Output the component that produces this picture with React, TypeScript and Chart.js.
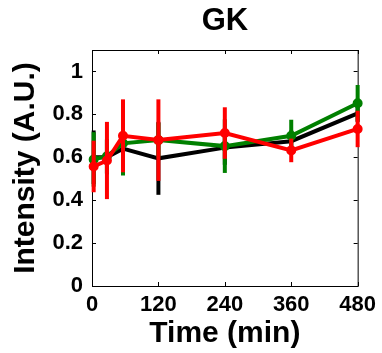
import { useEffect, useRef } from 'react';
import { Chart, registerables } from 'chart.js';

Chart.register(...registerables);

const timePoints = [3, 27, 56, 120, 240, 360, 480];

const blackMean = [0.6, 0.6, 0.64, 0.595, 0.645, 0.675, 0.805];
const blackErr = [0.125, 0.08, 0.08, 0.17, 0.08, 0.05, 0.04];

const greenMean = [0.59, 0.605, 0.665, 0.68, 0.652, 0.7, 0.852];
const greenErr = [0.127, 0.08, 0.15, 0.08, 0.125, 0.075, 0.085];

const redMean = [0.557, 0.585, 0.7, 0.68, 0.713, 0.632, 0.732];
const redErr = [0.12, 0.18, 0.17, 0.19, 0.12, 0.055, 0.085];

const xTickValues = [0, 120, 240, 360, 480];
const yTickValues = [0, 0.2, 0.4, 0.6, 0.8, 1];

const chartTitle = 'GK';
const xAxisTitle = 'Time (min)';
const yAxisTitle = 'Intensity (A.U.)';

const FONT = '"Liberation Sans", Arial, Helvetica, sans-serif';

const toPoints = (vals: number[]) => vals.map((v, i) => ({ x: timePoints[i], y: v }));

const errorBarPlugin = {
  id: 'errorBars',
  afterDatasetDraw(chart: any, args: any) {
    const ds: any = chart.data.datasets[args.index];
    const errs: number[] | undefined = ds.errors;
    if (!errs) return;
    const ctx = chart.ctx;
    const ys = chart.scales.y;
    ctx.save();
    ctx.strokeStyle = ds.borderColor;
    ctx.lineWidth = 4;
    ctx.lineCap = 'butt';
    args.meta.data.forEach((pt: any, i: number) => {
      const v = ds.data[i].y;
      const e = errs[i];
      ctx.beginPath();
      ctx.moveTo(pt.x, ys.getPixelForValue(v + e));
      ctx.lineTo(pt.x, ys.getPixelForValue(v - e));
      ctx.stroke();
    });
    ctx.restore();
  },
};

const boxPlugin = {
  id: 'matlabBox',
  beforeDatasetsDraw(chart: any) {
    const { ctx, chartArea } = chart;
    const { left, right, top, bottom } = chartArea;
    const xs = chart.scales.x;
    const ys = chart.scales.y;
    const tl = 4;
    ctx.save();
    ctx.strokeStyle = '#000';
    ctx.lineWidth = 1;
    ctx.strokeRect(left + 0.5, top + 0.5, right - left, bottom - top);
    ctx.beginPath();
    xTickValues.forEach((v) => {
      const px = Math.round(xs.getPixelForValue(v)) + 0.5;
      ctx.moveTo(px, bottom);
      ctx.lineTo(px, bottom - tl);
      ctx.moveTo(px, top);
      ctx.lineTo(px, top + tl);
    });
    yTickValues.forEach((v) => {
      const py = Math.round(ys.getPixelForValue(v)) + 0.5;
      ctx.moveTo(left, py);
      ctx.lineTo(left + tl, py);
      ctx.moveTo(right, py);
      ctx.lineTo(right - tl, py);
    });
    ctx.stroke();
    ctx.restore();
  },
  afterDraw(chart: any) {
    const { ctx, chartArea } = chart;
    ctx.save();
    ctx.fillStyle = '#000';
    ctx.font = `bold 31px ${FONT}`;
    ctx.textAlign = 'center';
    ctx.textBaseline = 'middle';
    ctx.fillText(chartTitle, 225, 21);
    ctx.restore();
  },
};

export default function App() {
  const canvasRef = useRef<HTMLCanvasElement | null>(null);

  useEffect(() => {
    if (!canvasRef.current) return;
    const chart = new Chart(canvasRef.current, {
      type: 'line',
      data: {
        datasets: [
          {
            label: 'red',
            data: toPoints(redMean),
            errors: redErr,
            borderColor: '#ff0000',
            backgroundColor: '#ff0000',
            borderWidth: 4,
            pointRadius: 4,
            pointBorderWidth: 2,
            pointBackgroundColor: '#ff0000',
            pointBorderColor: '#ff0000',
            clip: false,
          } as any,
          {
            label: 'green',
            data: toPoints(greenMean),
            errors: greenErr,
            borderColor: '#008000',
            backgroundColor: '#008000',
            borderWidth: 4,
            pointRadius: 4,
            pointBorderWidth: 2,
            pointBackgroundColor: '#008000',
            pointBorderColor: '#008000',
            clip: false,
          } as any,
          {
            label: 'black',
            data: toPoints(blackMean),
            errors: blackErr,
            borderColor: '#000000',
            backgroundColor: '#000000',
            borderWidth: 4,
            pointRadius: 0,
            clip: false,
          } as any,
        ],
      },
      options: {
        animation: false,
        responsive: false,
        events: [],
        layout: { padding: { top: 50, right: 21, left: 0, bottom: 0 } },
        plugins: {
          legend: { display: false },
          title: { display: false },
          tooltip: { enabled: false },
        },
        scales: {
          x: {
            type: 'linear',
            min: 0,
            max: 480,
            grid: { display: false, drawTicks: false, tickLength: 0 },
            border: { display: false },
            afterBuildTicks: (s: any) => {
              s.ticks = xTickValues.map((v) => ({ value: v }));
            },
            afterFit: (s: any) => {
              s.height = 67;
            },
            ticks: {
              color: '#000',
              padding: 6,
              maxRotation: 0,
              autoSkip: false,
              font: { family: FONT, size: 22, weight: 'bold' },
              callback: (v: any) => String(v),
            },
            title: {
              display: true,
              text: xAxisTitle,
              color: '#000',
              font: { family: FONT, size: 30, weight: 'bold', lineHeight: 1 },
              padding: { top: 0, bottom: 4 },
            },
          },
          y: {
            type: 'linear',
            min: 0,
            max: 1.1,
            grid: { display: false, drawTicks: false, tickLength: 0 },
            border: { display: false },
            afterBuildTicks: (s: any) => {
              s.ticks = yTickValues.map((v) => ({ value: v }));
            },
            afterFit: (s: any) => {
              s.width = 92;
            },
            ticks: {
              color: '#000',
              padding: 9,
              autoSkip: false,
              font: { family: FONT, size: 22, weight: 'bold' },
              callback: (v: any) => String(v),
            },
            title: {
              display: true,
              text: yAxisTitle,
              color: '#000',
              font: { family: FONT, size: 30, weight: 'bold', lineHeight: 1 },
              padding: { top: 11, bottom: 0 },
            },
          },
        },
      } as any,
      plugins: [errorBarPlugin, boxPlugin],
    });
    return () => chart.destroy();
  }, []);

  return (
    <div style={{ position: 'fixed', left: 0, top: 0, width: 382, height: 353, background: '#fff' }}>
      <canvas ref={canvasRef} width={382} height={353} style={{ display: 'block' }} />
    </div>
  );
}
